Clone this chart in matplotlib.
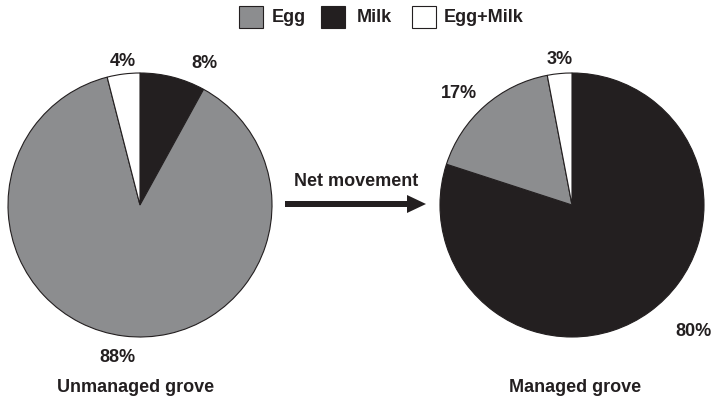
import matplotlib.pyplot as plt
from matplotlib.patches import Rectangle

# data
categories = ["Milk", "Egg", "Egg+Milk"]
unmanaged = [8, 88, 4]
managed = [80, 17, 3]
colors = {"Egg": "#8c8d8f", "Milk": "#231f20", "Egg+Milk": "#ffffff"}
legend_order = ["Egg", "Milk", "Egg+Milk"]

W, H = 713, 401
plt.rcParams['font.family'] = ['Liberation Sans', 'DejaVu Sans']

fig = plt.figure(figsize=(W / 100, H / 100), dpi=100)
ax = fig.add_axes([0, 0, 1, 1])

R = 132
cy = H - 205
pie_colors = [colors[c] for c in categories]
wedge_kw = dict(edgecolor="#231f20", linewidth=0.8)

ax.pie(unmanaged, colors=pie_colors, startangle=90, counterclock=False,
       center=(140, cy), radius=R, wedgeprops=wedge_kw, frame=True)
ax.pie(managed, colors=pie_colors, startangle=90, counterclock=False,
       center=(572, cy), radius=R, wedgeprops=wedge_kw, frame=True)
ax.set_xlim(0, W)
ax.set_ylim(0, H)
ax.set_aspect('equal')
ax.axis('off')

fs = 13
tkw = dict(fontsize=fs, fontweight='bold', ha='center', va='center',
           color='#231f20')

# percentage labels
ax.text(123, H - 61, f"{unmanaged[2]}%", **tkw)
ax.text(204, H - 64, f"{unmanaged[0]}%", **tkw)
ax.text(117, H - 358, f"{unmanaged[1]}%", **tkw)
ax.text(560, H - 60, f"{managed[2]}%", **tkw)
ax.text(459, H - 93, f"{managed[1]}%", **tkw)
ax.text(693, H - 331, f"{managed[0]}%", **tkw)

ax.text(136, H - 388, "Unmanaged grove", **tkw)
ax.text(575, H - 388, "Managed grove", **tkw)

# arrow
ax.text(356, H - 182, "Net movement", **tkw)
ax.arrow(285, H - 204, 141, 0, width=6, head_width=18, head_length=19,
         length_includes_head=True, color="#231f20", linewidth=0)

# legend
legend_box_x = [239, 321, 412]
legend_text_x = [272, 357, 444]
for name, bx, tx in zip(legend_order, legend_box_x, legend_text_x):
    ax.add_patch(Rectangle((bx, H - 28), 24, 22, facecolor=colors[name],
                           edgecolor="#231f20", linewidth=0.8))
    ax.text(tx, H - 17, name, fontsize=fs, fontweight='bold',
            ha='left', va='center', color='#231f20')

fig.savefig("out.png", dpi=100)
